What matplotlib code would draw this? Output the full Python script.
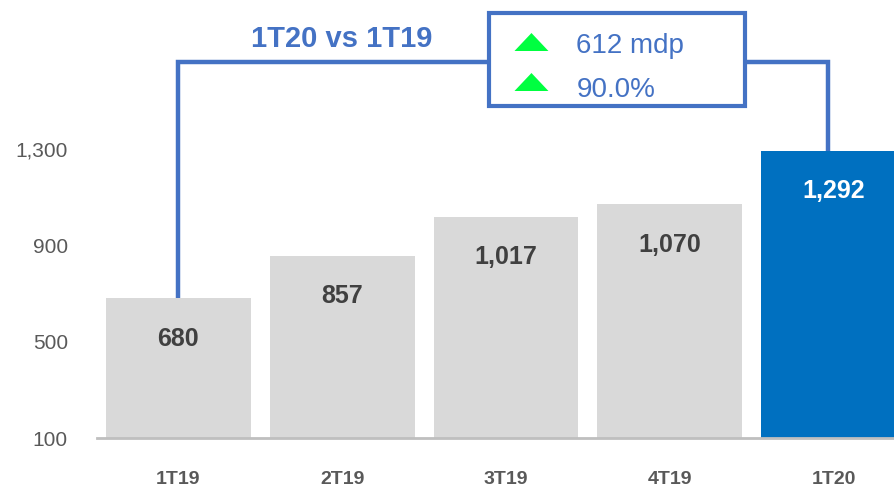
import matplotlib
matplotlib.use("Agg")
import matplotlib.pyplot as plt
from matplotlib.patches import Rectangle, Polygon

plt.rcParams["font.family"] = ["Liberation Sans", "DejaVu Sans"]

quarters = ["1T19", "2T19", "3T19", "4T19", "1T20"]
values = [680, 857, 1017, 1070, 1292]
bar_colors = ["#D9D9D9", "#D9D9D9", "#D9D9D9", "#D9D9D9", "#0070C0"]
label_colors = ["#404040", "#404040", "#404040", "#404040", "white"]
yticks = [100, 500, 900, 1300]
compare_title = "1T20 vs 1T19"
delta_lines = ["612 mdp", "90.0%"]

BLUE = "#4472C4"
BASE = 100

fig = plt.figure(figsize=(8.95, 4.88), dpi=100)
ax = fig.add_axes([97 / 895, 50 / 488, 798 / 895, 438 / 488])

x = list(range(len(quarters)))
heights = [v - BASE for v in values]
ax.bar(x, heights, bottom=BASE, width=0.885, color=bar_colors, zorder=2)

for xi, v, c in zip(x, values, label_colors):
    ax.annotate(f"{v:,}", (xi, v), xytext=(0, -29), textcoords="offset points",
                ha="center", va="center", fontsize=18, fontweight="bold", color=c)

ax.set_xlim(-0.497, 4.375)
ax.set_ylim(BASE, BASE + 438 / 0.2408)
ax.set_yticks(yticks)
ax.set_yticklabels([f"{t:,}" for t in yticks], fontsize=15, color="#595959")
ax.set_xticks(x)
ax.set_xticklabels(quarters, fontsize=14, fontweight="bold", color="#595959")
ax.tick_params(axis="y", length=0, pad=21)
ax.tick_params(axis="x", length=0, pad=24)
for s in ["top", "right", "left"]:
    ax.spines[s].set_visible(False)
ax.spines["bottom"].set_color("#BFBFBF")
ax.spines["bottom"].set_linewidth(2)


def py(px):
    # pixel row in the figure -> data value
    return BASE + (438 - px) / 0.2408


def px_x(px):
    return (px - 178.5) / 164


# connector between 1T19 and 1T20
y_top = py(62)
ax.plot([0, 0, px_x(829), px_x(829)], [values[0], y_top, y_top, values[-1]],
        color=BLUE, lw=3.2, solid_capstyle="butt", solid_joinstyle="miter", zorder=3, clip_on=False)

box = Rectangle((px_x(489), py(106)), px_x(746) - px_x(489), py(13) - py(106),
                facecolor="white", edgecolor=BLUE, lw=3, zorder=4, clip_on=False)
ax.add_patch(box)

ax.text(px_x(342), py(47), compare_title, ha="center", va="baseline",
        fontsize=21, fontweight="bold", color=BLUE, zorder=5)

# green up triangles (top, bottom pixel rows) and the delta texts
for (t0, t1), base_px, txt in zip([(33, 51), (73, 91)], [53, 97], delta_lines):
    tri = Polygon([(px_x(515), py(t1)), (px_x(549), py(t1)), (px_x(532), py(t0))],
                  closed=True, facecolor="#00FF40", edgecolor="none", zorder=5, clip_on=False)
    ax.add_patch(tri)
    ax.text(px_x(577), py(base_px), txt, ha="left", va="baseline",
            fontsize=20, color=BLUE, zorder=5)

fig.savefig("out.png", dpi=100)
